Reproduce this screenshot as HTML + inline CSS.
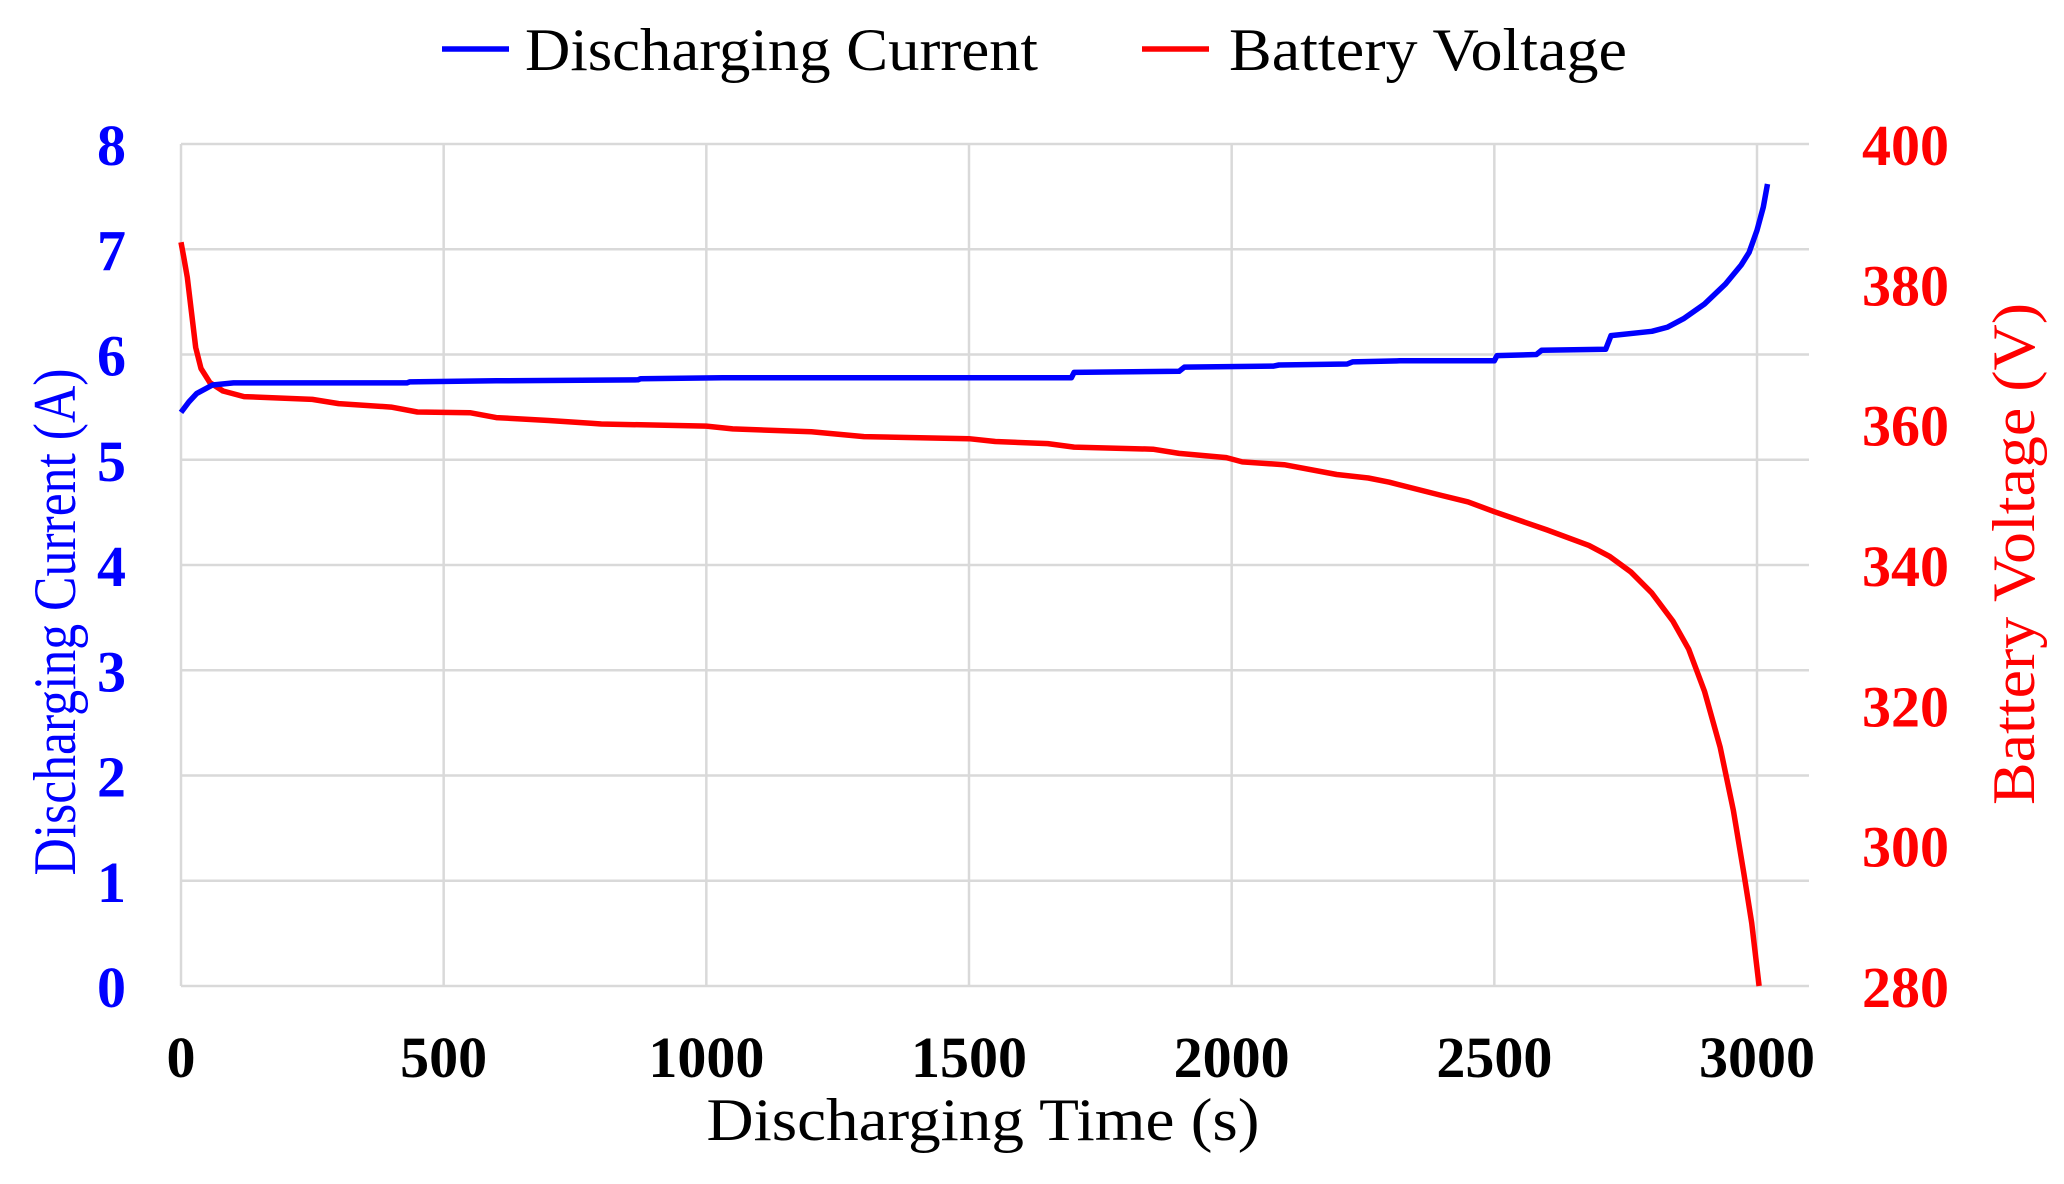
<!DOCTYPE html>
<html><head><meta charset="utf-8"><style>html,body{margin:0;padding:0;background:#fff}svg{display:block}</style></head>
<body>
<svg id="s" width="2064" height="1184" xmlns="http://www.w3.org/2000/svg" font-family="Liberation Serif, serif">
<g id="grid" stroke="#d9d9d9" stroke-width="2.5" fill="none"></g>
<g id="lab"></g>
<polyline id="vb" fill="none" stroke="#ff0000" stroke-width="5.5" stroke-linejoin="round"/>
<polyline id="ib" fill="none" stroke="#0000ff" stroke-width="5.5" stroke-linejoin="round"/>
<line x1="442" y1="49" x2="509" y2="49" stroke="#0000ff" stroke-width="5.5"/>
<text x="525" y="70" font-size="60" textLength="513" lengthAdjust="spacingAndGlyphs">Discharging Current</text>
<line x1="1142" y1="49" x2="1209" y2="49" stroke="#ff0000" stroke-width="5.5"/>
<text x="1229" y="70" font-size="60" textLength="398" lengthAdjust="spacingAndGlyphs">Battery Voltage</text>
<text x="983" y="1140" font-size="60" text-anchor="middle" textLength="553" lengthAdjust="spacingAndGlyphs">Discharging Time  (s)</text>
<text transform="translate(75,622) rotate(-90)" font-size="60" fill="#0000ff" text-anchor="middle" textLength="507" lengthAdjust="spacingAndGlyphs">Discharging Current  (A)</text>
<text transform="translate(2034,554) rotate(-90)" font-size="60" fill="#ff0000" text-anchor="middle" textLength="502" lengthAdjust="spacingAndGlyphs">Battery Voltage  (V)</text>
</svg>
<script>
var L=181,R=1809,T=144,B=986;
function X(t){return L+t*(1757-L)/3000;}
function YI(v){return B-v*(B-T)/8;}
function YV(v){return B-(v-280)*(B-T)/120;}
var g=document.getElementById('grid'),lab=document.getElementById('lab'),h='',l='';
for(var i=0;i<=8;i++){var y=YI(i);h+='<line x1="'+L+'" y1="'+y+'" x2="'+R+'" y2="'+y+'"/>';
l+='<text x="126" y="'+(y+21)+'" font-size="58" font-weight="bold" fill="#0000ff" text-anchor="end">'+i+'</text>';}
for(var k=0;k<=6;k++){var v=280+20*k,y=YV(v);l+='<text x="1862" y="'+(y+21)+'" font-size="58" font-weight="bold" fill="#ff0000">'+v+'</text>';}
for(var t=0;t<=3000;t+=500){var x=X(t);h+='<line x1="'+x+'" y1="'+T+'" x2="'+x+'" y2="'+B+'"/>';
l+='<text x="'+x+'" y="1077" font-size="58" font-weight="bold" text-anchor="middle">'+t+'</text>';}
g.innerHTML=h;lab.innerHTML=l;
var I=[[0,5.45],[15,5.55],[30,5.63],[60,5.71],[100,5.73],[430,5.73],[435,5.74],[600,5.75],[870,5.76],[875,5.77],[1030,5.78],[1695,5.78],[1700,5.83],[1900,5.84],[1910,5.88],[2080,5.89],[2090,5.9],[2220,5.91],[2230,5.93],[2320,5.94],[2500,5.94],[2505,5.99],[2580,6.0],[2590,6.04],[2712,6.05],[2722,6.18],[2800,6.22],[2830,6.26],[2860,6.34],[2900,6.48],[2940,6.67],[2970,6.85],[2985,6.97],[3000,7.18],[3012,7.4],[3020,7.62]];
var V=[[0,386],[5,384],[12,381],[20,376],[28,371],[38,368],[55,366],[80,364.8],[120,364],[250,363.6],[300,363],[400,362.5],[450,361.8],[550,361.7],[600,361],[700,360.6],[780,360.2],[800,360.1],[1000,359.8],[1050,359.4],[1200,359],[1300,358.3],[1500,358],[1550,357.6],[1650,357.3],[1700,356.8],[1850,356.5],[1900,355.9],[1990,355.3],[2020,354.7],[2100,354.3],[2200,352.9],[2260,352.4],[2300,351.8],[2400,349.9],[2450,349],[2500,347.6],[2600,345],[2680,342.8],[2720,341.2],[2760,339],[2800,336],[2840,332],[2870,328],[2900,322],[2930,314],[2955,305],[2975,296],[2990,289],[3004,280]];
document.getElementById('ib').setAttribute('points',I.map(function(p){return X(p[0]).toFixed(1)+','+YI(p[1]).toFixed(1)}).join(' '));
document.getElementById('vb').setAttribute('points',V.map(function(p){return X(p[0]).toFixed(1)+','+YV(p[1]).toFixed(1)}).join(' '));
</script>
</body></html>
